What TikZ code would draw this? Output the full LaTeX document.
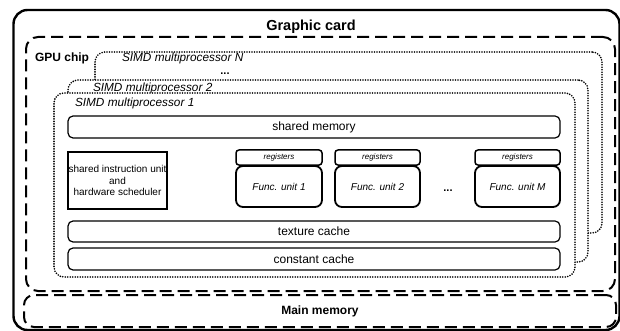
\documentclass[tikz,border=0pt]{standalone}
\usepackage{fontspec}
\setmainfont{Liberation Sans}
\begin{document}
\begin{tikzpicture}[x=1pt,y=-1pt,
  every node/.style={inner sep=0pt,outer sep=0pt},
  cardbox/.style={draw,line width=2.4pt,rounded corners=14pt,minimum width=606pt,minimum height=320pt},
  chipbox/.style={draw,line width=2pt,dash pattern=on 12pt off 6pt,rounded corners=12pt},
  simdbox/.style={draw,fill=white,line width=1.8pt,line cap=round,dash pattern=on 0pt off 2.5pt,rounded corners=10pt},
  membox/.style={draw,line width=1.2pt,rounded corners=5pt,minimum width=492pt,font=\fontsize{12}{14}\selectfont},
  siubox/.style={draw,line width=2.2pt,minimum width=99pt,minimum height=57pt,align=center,font=\fontsize{10}{11.5}\selectfont},
  regbox/.style={draw,line width=1.5pt,rounded corners=3pt,minimum height=15pt,font=\fontsize{8}{9}\selectfont\itshape},
  funcbox/.style={draw,line width=1.8pt,rounded corners=7pt,minimum height=41pt,font=\fontsize{10}{12}\selectfont\itshape},
  title/.style={font=\fontsize{14.5}{16}\selectfont\bfseries,anchor=base},
  bold12/.style={font=\fontsize{12}{14}\selectfont\bfseries,anchor=base west},
  simdlabel/.style={font=\fontsize{11.8}{14}\selectfont\itshape,anchor=base west},
  dotslabel/.style={font=\fontsize{11}{12}\selectfont\bfseries}
]
\useasboundingbox (0,0) rectangle (620,331);
% graphic card
\node[cardbox] (card) at (316.5,170) {};
\node[title] (cardtitle) at (311,31) {Graphic card};
% GPU chip
\node[chipbox,minimum width=589pt,minimum height=254pt] (gpu) at (320.5,164) {};
\node[bold12] (gputitle) at (35,62) {GPU chip};
% main memory
\node[chipbox,rounded corners=10pt,minimum width=592pt,minimum height=32pt] (mainmem) at (320,311) {};
\node[font=\fontsize{12}{14}\selectfont\bfseries] (mainmemtext) at (320,311) {Main memory};
% SIMD multiprocessors
\node[simdbox,minimum width=507pt,minimum height=181pt] (simdN) at (348.5,142.5) {};
\node[simdlabel] (simdNtext) at (122,62) {SIMD multiprocessor N};
\node[dotslabel] (simddots) at (225,73.5) {...};
\node[simdbox,minimum width=520pt,minimum height=182pt] (simd2) at (328,171) {};
\node[simdlabel] (simd2text) at (93,92) {SIMD multiprocessor 2};
\node[simdbox,minimum width=521pt,minimum height=184pt] (simd1) at (314.5,185) {};
\node[simdlabel] (simd1text) at (75,107) {SIMD multiprocessor 1};
% memories
\node[membox,minimum height=22pt] (shmem) at (314,127) {shared memory};
\node[membox,minimum height=21pt] (texc) at (314,231.5) {texture cache};
\node[membox,minimum height=22pt] (constc) at (314,259) {constant cache};
% shared instruction unit
\node[siubox] (siu) at (117.5,180.5) {shared instruction unit\\and\\hardware scheduler};
% functional units
\node[regbox,minimum width=86pt] (reg1) at (279,157.5) {registers};
\node[funcbox,minimum width=86pt] (func1) at (279,186.5) {Func. unit 1};
\node[regbox,minimum width=85pt] (reg2) at (377.5,157.5) {registers};
\node[funcbox,minimum width=85pt] (func2) at (377.5,186.5) {Func. unit 2};
\node[regbox,minimum width=85pt] (regM) at (517.5,157.5) {registers};
\node[funcbox,minimum width=85pt] (funcM) at (517.5,186.5) {Func. unit M};
\node[dotslabel] (funcdots) at (448,191) {...};
\end{tikzpicture}
\end{document}
